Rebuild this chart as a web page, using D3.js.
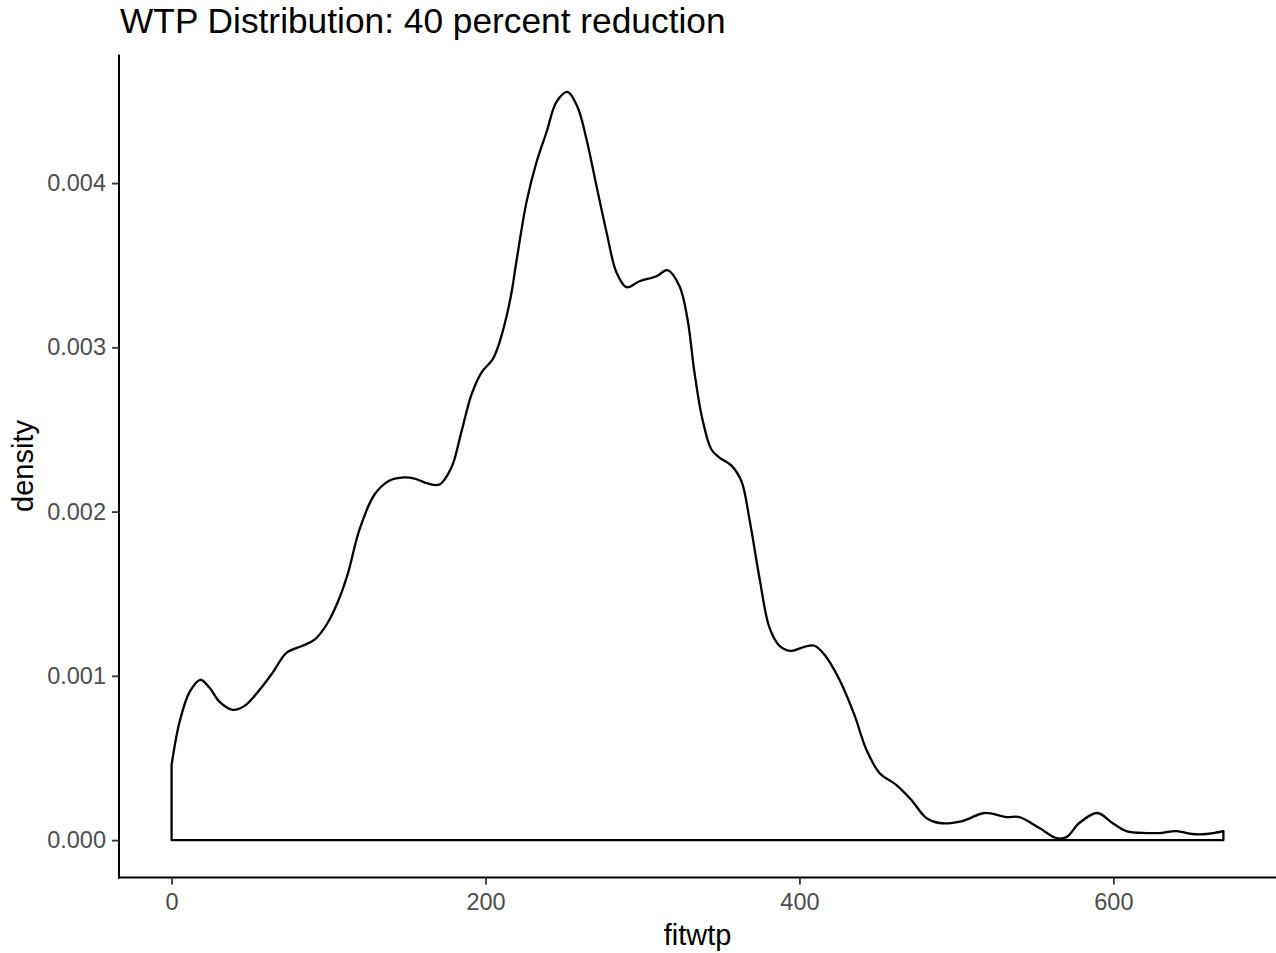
<!DOCTYPE html>
<html>
<head>
<meta charset="utf-8">
<script src="https://cdn.jsdelivr.net/npm/d3@7"></script>
<style>
  html, body { margin: 0; padding: 0; background: #fff; }
  svg { display: block; font-family: "Liberation Sans", Arial, sans-serif; }
</style>
</head>
<body>
<svg id="chart" width="1276" height="953"></svg>
<script>
// Kernel density estimate of fitted willingness-to-pay
const fitwtp = [
  0, 5.1, 11.5, 18.3, 24.2, 30.6, 38.9, 46.5, 56.1, 64.3,
  73.2, 83.4, 91.1, 98.7, 105.7, 112.1, 119.7, 129.3, 138.9, 146.5,
  154.8, 163.1, 170.7, 178.3, 184.7, 191.1, 197.5, 204.5, 208.9, 213.4,
  216.6, 219.7, 226.1, 232.5, 238.9, 245.2, 252.2, 258.6, 264.3, 270.7,
  277.1, 283.4, 289.8, 298.1, 308.9, 315.9, 323.6, 328.7, 333.1, 338.2,
  343.9, 349.0, 356.7, 363.1, 368.2, 374.5, 380.9, 387.3, 394.9, 403.2,
  409.6, 416.0, 425.5, 435.0, 442.7, 451.0, 461.8, 471.3, 480.9, 489.2,
  503.8, 517.8, 531.8, 540.1, 552.9, 563.7, 570.1, 578.3, 589.8, 599.4,
  608.3, 621.0, 629.3, 640.1, 650.3, 659.2, 670.1
];
const density = [
  0.000457, 0.000720, 0.000902, 0.000976, 0.000927, 0.000841, 0.000793, 0.000817, 0.000915, 0.001018,
  0.001140, 0.001183, 0.001220, 0.001311, 0.001445, 0.001616, 0.001890, 0.002104, 0.002189, 0.002207,
  0.002201, 0.002171, 0.002165, 0.002268, 0.002488, 0.002713, 0.002848, 0.002927, 0.003030, 0.003189,
  0.003335, 0.003524, 0.003884, 0.004128, 0.004311, 0.004494, 0.004555, 0.004463, 0.004268, 0.003982,
  0.003701, 0.003457, 0.003366, 0.003402, 0.003433, 0.003470, 0.003372, 0.003171, 0.002848, 0.002561,
  0.002378, 0.002329, 0.002280, 0.002183, 0.001951, 0.001598, 0.001293, 0.001183, 0.001152, 0.001177,
  0.001183, 0.001128, 0.000976, 0.000762, 0.000549, 0.000409, 0.000335, 0.000244, 0.000134, 0.000104,
  0.000116, 0.000165, 0.000140, 0.000140, 0.000073, 0.000012, 0.000018, 0.000104, 0.000165, 0.000104,
  0.000055, 0.000043, 0.000043, 0.000055, 0.000037, 0.000037, 0.000055
];
const xTicks = [0, 200, 400, 600];
const yTicks = [0, 0.001, 0.002, 0.003, 0.004];
const titleText = "WTP Distribution: 40 percent reduction";
const xLabel = "fitwtp";
const yLabel = "density";

const W = 1276, H = 953;
const panel = { left: 119, right: 1276, top: 54.5, bottom: 877.5 };

const pts = fitwtp.map((x, i) => ({ x, y: density[i] }));

// 5% expansion on both axes, as in ggplot defaults
const xExt = d3.extent(fitwtp);
const xPad = (xExt[1] - xExt[0]) * 0.05;
const yMax = d3.max(density);
const yPad = yMax * 0.05;

const x = d3.scaleLinear()
  .domain([xExt[0] - xPad, xExt[1] + xPad])
  .range([panel.left, panel.right]);
const y = d3.scaleLinear()
  .domain([-yPad, yMax + yPad])
  .range([panel.bottom, panel.top]);

const svg = d3.select("#chart");

// density outline: curve on top, vertical edges at both ends, baseline at zero
const area = d3.area()
  .x(d => x(d.x))
  .y0(y(0))
  .y1(d => y(d.y))
  .curve(d3.curveCatmullRom.alpha(0.5));

svg.append("path")
  .datum(pts)
  .attr("d", area)
  .attr("fill", "none")
  .attr("stroke", "#000")
  .attr("stroke-width", 2.3)
  .attr("stroke-linejoin", "round");

// axes
const xAxis = svg.append("g")
  .attr("transform", `translate(0,${panel.bottom})`)
  .call(d3.axisBottom(x).tickValues(xTicks).tickSize(7).tickPadding(9).tickFormat(d3.format("d")));
const yAxis = svg.append("g")
  .attr("transform", `translate(${panel.left},0)`)
  .call(d3.axisLeft(y).tickValues(yTicks).tickSize(7).tickPadding(6).tickFormat(d3.format(".3f")));

[xAxis, yAxis].forEach(g => {
  g.select(".domain").attr("stroke", "#000").attr("stroke-width", 2);
  g.selectAll(".tick line").attr("stroke", "#333").attr("stroke-width", 1.8);
  g.selectAll(".tick text")
    .attr("fill", "#4D4D4D")
    .style("font-size", "23.5px")
    .style("font-family", "'Liberation Sans', Arial, sans-serif");
});
// extend the domain lines to the full panel (no outer ticks)
xAxis.select(".domain").attr("d", `M${panel.left - 1},0H${panel.right}`);
yAxis.select(".domain").attr("d", `M0,${panel.top}V${panel.bottom + 1}`);

// titles
svg.append("text")
  .attr("x", 120)
  .attr("y", 33)
  .attr("fill", "#000")
  .style("font-size", "35.3px")
  .text(titleText);

svg.append("text")
  .attr("x", (panel.left + panel.right) / 2)
  .attr("y", 945)
  .attr("text-anchor", "middle")
  .attr("fill", "#000")
  .style("font-size", "29px")
  .text(xLabel);

svg.append("text")
  .attr("transform", `translate(33,${(panel.top + panel.bottom) / 2}) rotate(-90)`)
  .attr("text-anchor", "middle")
  .attr("fill", "#000")
  .style("font-size", "29px")
  .text(yLabel);
</script>
</body>
</html>
